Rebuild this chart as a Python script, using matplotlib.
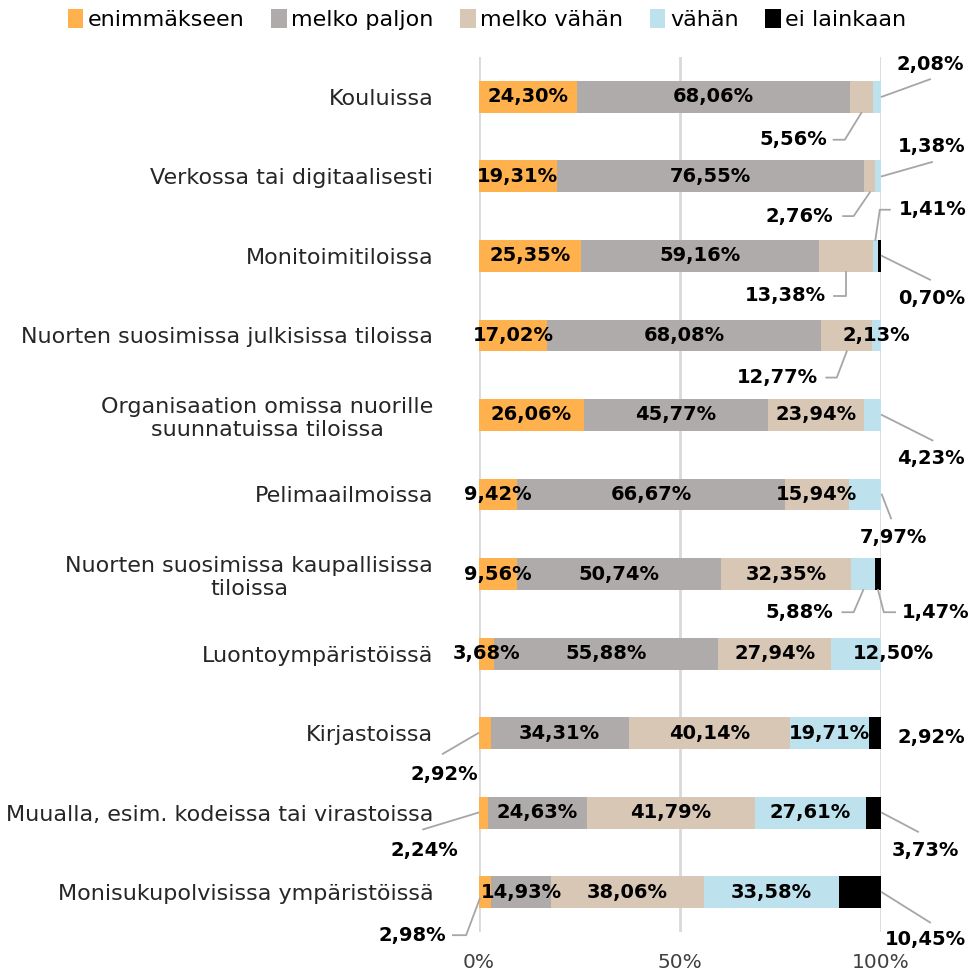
import matplotlib
matplotlib.use("Agg")
import matplotlib.pyplot as plt
import numpy as np

# kategoriat (ylhäältä alas)
categories = [
    "Kouluissa",
    "Verkossa tai digitaalisesti",
    "Monitoimitiloissa",
    "Nuorten suosimissa julkisissa tiloissa",
    "Organisaation omissa nuorille\nsuunnatuissa tiloissa",
    "Pelimaailmoissa",
    "Nuorten suosimissa kaupallisissa\ntiloissa",
    "Luontoympäristöissä",
    "Kirjastoissa",
    "Muualla, esim. kodeissa tai virastoissa",
    "Monisukupolvisissa ympäristöissä",
]
series_names = ["enimmäkseen", "melko paljon", "melko vähän", "vähän", "ei lainkaan"]

enimmakseen = [24.30, 19.31, 25.35, 17.02, 26.06, 9.42, 9.56, 3.68, 2.92, 2.24, 2.98]
melko_paljon = [68.06, 76.55, 59.16, 68.08, 45.77, 66.67, 50.74, 55.88, 34.31, 24.63, 14.93]
melko_vahan = [5.56, 2.76, 13.38, 12.77, 23.94, 15.94, 32.35, 27.94, 40.14, 41.79, 38.06]
vahan = [2.08, 1.38, 1.41, 2.13, 4.23, 7.97, 5.88, 12.50, 19.71, 27.61, 33.58]
ei_lainkaan = [0, 0, 0.70, 0, 0, 0, 1.47, 0, 2.92, 3.73, 10.45]

colors = ["#FFB14E", "#AFABAB", "#D9C7B6", "#BDE2EE", "#000000"]

data = np.array([enimmakseen, melko_paljon, melko_vahan, vahan, ei_lainkaan]) / 100.0
H = 0.4

plt.rcParams["font.family"] = ["DejaVu Sans"]
fig = plt.figure(figsize=(9.74, 9.76), dpi=100)
ax = fig.add_axes([479 / 974, 1 - 932 / 976, 402 / 974, 875 / 976])

y = np.arange(len(categories))
left = np.zeros(len(categories))
for s in range(5):
    ax.barh(y, data[s], left=left, height=H, color=colors[s], label=series_names[s], zorder=3)
    left += data[s]

ax.set_xlim(0, 1)
ax.set_ylim(len(categories) - 0.5, -0.5)
ax.set_xticks([0, 0.5, 1.0])
ax.set_xticklabels(["0%", "50%", "100%"], fontsize=14.5, color="#404040")
ax.set_yticks(y)
ax.set_yticklabels(categories, fontsize=16, color="#262626")
for lab in ax.get_yticklabels():
    lab.set_multialignment("center")
ax.tick_params(axis="y", length=0, pad=33)
ax.tick_params(axis="x", length=0, pad=15)
for sp in ax.spines.values():
    sp.set_visible(False)
ax.grid(axis="x", color="#D9D9D9", lw=2, zorder=0)
ax.set_axisbelow(True)

# label placements outside the bars: (row, series, anchor, leader path, text pos, ha)
outside = [
    (0, 3, "end", [(1.122, -0.22)], (1.122, -0.40), "center"),
    (0, 2, "bottom", [(0.910, 0.54), (0.882, 0.54)], (0.866, 0.54), "right"),
    (1, 3, "end", [(1.127, 0.82)], (1.127, 0.63), "center"),
    (1, 2, "bottom", [(0.932, 1.50), (0.906, 1.50)], (0.880, 1.50), "right"),
    (2, 3, "top", [(0.997, 1.42), (1.022, 1.42)], (1.045, 1.42), "left"),
    (2, 4, "end", [(1.122, 2.30)], (1.125, 2.53), "center"),
    (2, 2, "bottom", [(0.912, 2.50), (0.884, 2.50)], (0.862, 2.50), "right"),
    (3, 2, "bottom", [(0.890, 3.53), (0.864, 3.53)], (0.842, 3.53), "right"),
    (4, 3, "end", [(1.128, 4.32)], (1.125, 4.55), "center"),
    (5, 3, "end", [(1.025, 5.30)], (1.030, 5.54), "center"),
    (6, 3, "bottom", [(0.932, 6.48), (0.904, 6.48)], (0.880, 6.48), "right"),
    (6, 4, "bottom", [(1.007, 6.48), (1.035, 6.48)], (1.053, 6.48), "left"),
    (8, 0, "start", [(-0.090, 8.26)], (-0.087, 8.52), "center"),
    (8, 4, None, [], (1.124, 8.05), "center"),
    (9, 0, "start", [(-0.139, 9.21)], (-0.137, 9.47), "center"),
    (9, 4, "end", [(1.092, 9.24)], (1.110, 9.47), "center"),
    (10, 0, "startlow", [(-0.032, 10.54), (-0.065, 10.54)], (-0.082, 10.55), "right"),
    (10, 4, "end", [(1.122, 10.38)], (1.110, 10.60), "center"),
]
inside_shift = {(7, 3): 1.03}

lab_kw = dict(fontsize=14, fontweight="bold", color="black", va="center", zorder=5)


def fmt(v):
    return f"{v * 100:.2f}%".replace(".", ",")


done = set()
cum = np.vstack([np.zeros(len(categories)), np.cumsum(data, axis=0)])
for row, s, anchor, path, tpos, ha in outside:
    x0, x1 = cum[s, row], cum[s + 1, row]
    if anchor == "end":
        start = (x1 + 0.002, row)
    elif anchor == "bottom":
        start = ((x0 + x1) / 2, row + H / 2)
    elif anchor == "top":
        start = ((x0 + x1) / 2, row - H / 2)
    elif anchor == "start":
        start = (x0 - 0.002, row)
    elif anchor == "startlow":
        start = (x0 + 0.002, row + 0.08)
    else:
        start = None
    if start is not None:
        pts = [start] + path
        ax.plot([p[0] for p in pts], [p[1] for p in pts], color="#A6A6A6", lw=1.3,
                clip_on=False, zorder=4)
    ax.text(tpos[0], tpos[1], fmt(data[s, row]), ha=ha, clip_on=False, **lab_kw)
    done.add((row, s))

for row in range(len(categories)):
    for s in range(5):
        v = data[s, row]
        if v <= 0 or (row, s) in done:
            continue
        xc = inside_shift.get((row, s), (cum[s, row] + cum[s + 1, row]) / 2)
        ax.text(xc, row, fmt(v), ha="center", clip_on=False, **lab_kw)

fig.legend(loc="upper center", bbox_to_anchor=(0.5, 1.011), ncol=5, frameon=False,
           handlelength=0.7, handleheight=0.9, handletextpad=0.2,
           columnspacing=1.2, prop={"size": 16})

fig.savefig("out.png", dpi=100)
